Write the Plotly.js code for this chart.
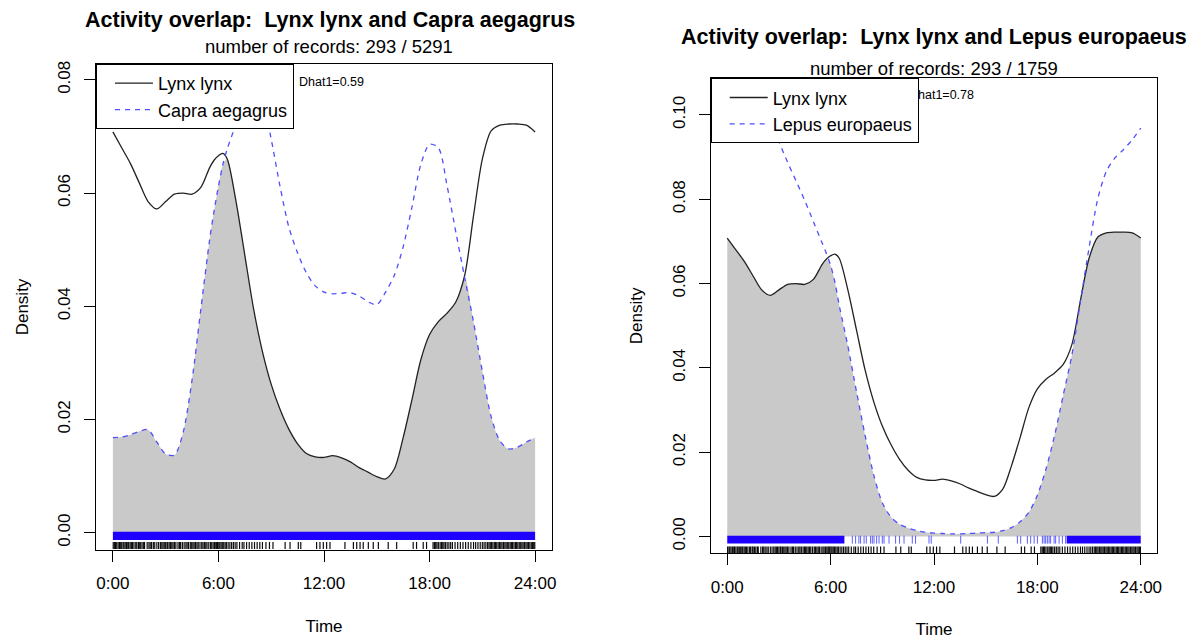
<!DOCTYPE html>
<html><head><meta charset="utf-8">
<script src="https://cdn.plot.ly/plotly-3.0.1.min.js"></script>
<style>html,body{margin:0;padding:0;background:#fff}#chart{width:1192px;height:640px}</style>
</head><body><div id="chart"></div>
<script>
// time grid (hours) shared by all density curves
const hours = [0,0.5,1,1.5,2,2.5,3,3.5,4,4.5,5,5.5,5.75,6,6.25,6.5,7,7.5,8,8.5,9,9.5,10,10.5,11,11.5,12,12.5,13,13.5,14,14.5,15,15.5,16,16.5,17,17.5,18,18.5,19,19.5,20,20.5,21,21.5,22,22.5,23,23.5,24];
const lynxDensity = [0.0708,0.0680,0.0652,0.0618,0.0585,0.0572,0.0585,0.0598,0.0600,0.0598,0.0610,0.0645,0.0658,0.0666,0.0670,0.0660,0.0585,0.0490,0.0395,0.0320,0.0262,0.0218,0.0183,0.0157,0.0140,0.0134,0.0133,0.0136,0.0132,0.0125,0.0115,0.0107,0.0099,0.0095,0.0113,0.0168,0.0235,0.0305,0.0350,0.0373,0.0388,0.0408,0.0455,0.0560,0.0660,0.0710,0.0720,0.0722,0.0722,0.0720,0.0708];
const capraDensity = [0.0168,0.0169,0.0173,0.0179,0.0182,0.0160,0.0139,0.0137,0.0178,0.0270,0.0395,0.0518,0.0568,0.0612,0.0650,0.0678,0.0722,0.0765,0.0793,0.0765,0.0695,0.0612,0.0540,0.0494,0.0459,0.0436,0.0425,0.0422,0.0423,0.0424,0.0418,0.0408,0.0403,0.0425,0.0455,0.0505,0.0575,0.0650,0.0686,0.0680,0.0612,0.0530,0.0450,0.0372,0.0285,0.0205,0.0162,0.0148,0.0151,0.0160,0.0168];
const lepusDensity = [0.0969,0.1003,0.1028,0.1040,0.1028,0.0988,0.0937,0.0888,0.0843,0.0797,0.0747,0.0697,0.0672,0.0643,0.0603,0.0548,0.0452,0.0344,0.0240,0.0146,0.0080,0.0046,0.0029,0.0020,0.0014,0.0010,0.0008,0.0007,0.0006,0.0006,0.0007,0.0008,0.0009,0.0010,0.0014,0.0021,0.0035,0.0057,0.0098,0.0160,0.0240,0.0335,0.0430,0.0558,0.0685,0.0800,0.0866,0.0898,0.0918,0.0941,0.0969];

// record times (hours) for the rugs
const lynxTimes = [0.02,0.1,0.15,0.22,0.3,0.38,0.42,0.5,0.58,0.63,0.7,0.78,0.85,0.9,0.98,1.05,1.12,1.2,1.3,1.36,1.45,1.5,1.58,1.66,1.75,1.8,1.95,2.05,2.12,2.2,2.3,2.38,2.5,2.6,2.7,2.78,2.85,2.92,3.0,3.08,3.12,3.2,3.28,3.35,3.42,3.5,3.58,3.7,3.78,3.85,3.95,4.05,4.15,4.22,4.3,4.4,4.48,4.55,4.62,4.7,4.78,4.85,4.95,5.05,5.12,5.2,5.28,5.35,5.45,5.55,5.62,5.7,5.78,5.85,5.9,5.95,6.02,6.08,6.15,6.22,6.3,6.38,6.45,6.55,6.65,6.75,6.85,6.95,7.05,7.2,7.35,7.45,7.6,7.75,7.9,8.05,8.2,8.35,8.5,8.7,8.9,9.1,9.79,10.07,10.54,10.68,11.58,11.77,11.96,12.15,12.34,13.19,13.67,13.86,14.05,14.23,14.52,14.8,15.09,15.65,16.13,17.07,17.26,17.64,17.83,18.2,18.28,18.35,18.42,18.5,18.6,18.68,18.75,18.82,18.9,19.0,19.1,19.2,19.3,19.45,19.6,19.75,19.9,20.05,20.2,20.35,20.5,20.62,20.75,20.88,21.0,21.1,21.2,21.3,21.38,21.45,21.52,21.6,21.68,21.75,21.82,21.9,21.98,22.05,22.12,22.2,22.28,22.35,22.42,22.5,22.58,22.65,22.72,22.8,22.88,22.95,23.02,23.1,23.18,23.25,23.32,23.4,23.48,23.55,23.62,23.7,23.78,23.85,23.92,23.98];
const capraDenseSpans = [[0,24]];
const lepusDenseSpans = [[0,6.8],[19.7,24]];
const lepusTimes = [7.26,7.45,7.64,7.74,7.94,8.07,8.32,8.42,8.52,8.67,8.81,9.0,9.1,9.39,9.77,10.0,10.26,10.74,10.93,11.71,11.84,13.55,15.1,15.73,16.84,17.03,17.42,17.61,17.81,18.0,18.29,18.39,18.48,18.58,18.68,18.77,18.97,19.06,19.26,19.45,19.64];

const tickHours = [0,6,12,18,24];
const tickLabels = ['0:00','6:00','12:00','18:00','24:00'];
const titles = ['Activity overlap:\u00a0 Lynx lynx and Capra aegagrus','Activity overlap:\u00a0 Lynx lynx and Lepus europaeus'];
const subtitles = ['number of records: 293 / 5291','number of records: 293 / 1759'];
const dhat = ['Dhat1=0.59','Dhat1=0.78'];
const speciesA = 'Lynx lynx';
const speciesB = ['Capra aegagrus','Lepus europaeus'];

const FONT = 'Liberation Sans, Arial, Helvetica, sans-serif';
const BLUE_LINE = '#4f4fff';
const BLUE_RUG = '#1f00ff';
const GREY = '#c9c9c9';

function rug(times, y0, y1, color, width, xa, ya) {
  const x = [], y = [];
  times.forEach(t => { x.push(t, t, null); y.push(y0, y1, null); });
  return {type:'scatter', mode:'lines', x, y, xaxis:xa, yaxis:ya, line:{color, width}, showlegend:false, hoverinfo:'skip'};
}
function spans(sp, y0, y1, color, xa, ya) {
  return sp.map(s => ({type:'scatter', mode:'lines', x:[s[0],s[1],s[1],s[0],s[0]], y:[y0,y0,y1,y1,y0],
    xaxis:xa, yaxis:ya, fill:'toself', fillcolor:color, line:{width:0, color:color}, showlegend:false, hoverinfo:'skip'}));
}

const panels = [
  {other: capraDensity, xa:'x', ya:'y', leg:'legend', blue:[-0.00129,0.00018], black:[-0.00288,-0.00164], dense:capraDenseSpans, sparse:[]},
  {other: lepusDensity, xa:'x2', ya:'y2', leg:'legend2', blue:[-0.0017,0.00017], black:[-0.0039,-0.0024], dense:lepusDenseSpans, sparse:lepusTimes}
];

const traces = [];
panels.forEach((p, k) => {
  const overlap = hours.map((h, i) => Math.min(lynxDensity[i], p.other[i]));
  traces.push({type:'scatter', mode:'lines', x:hours, y:overlap, xaxis:p.xa, yaxis:p.ya, fill:'tozeroy', fillcolor:GREY,
    line:{width:0, shape:'spline', smoothing:0.8, color:GREY}, showlegend:false, hoverinfo:'skip'});
  traces.push(...spans(p.dense, p.blue[0], p.blue[1], BLUE_RUG, p.xa, p.ya));
  if (p.sparse.length) traces.push(rug(p.sparse, p.blue[0], p.blue[1], 'rgba(40,40,255,0.75)', 1, p.xa, p.ya));
  traces.push(rug(lynxTimes, p.black[0], p.black[1], 'rgba(0,0,0,0.95)', 1.2, p.xa, p.ya));
  traces.push({type:'scatter', mode:'lines', name:speciesA, x:hours, y:lynxDensity, xaxis:p.xa, yaxis:p.ya, legend:p.leg,
    line:{color:'#222', width:1.3, shape:'spline', smoothing:0.8}});
  traces.push({type:'scatter', mode:'lines', name:speciesB[k], x:hours, y:p.other, xaxis:p.xa, yaxis:p.ya, legend:p.leg,
    line:{color:BLUE_LINE, width:1.3, dash:'5px,5px', shape:'spline', smoothing:0.8}});
});

function xax(domain) {
  return {domain, range:[-0.96,24.96], tickvals:tickHours, ticktext:tickLabels, ticks:'outside', ticklen:11, tickcolor:'#000',
    showline:true, mirror:true, linecolor:'#000', linewidth:1, showgrid:false, zeroline:false, ticklabelstandoff:7,
    tickfont:{family:FONT, size:17, color:'#000'}, title:{text:'Time', font:{family:FONT, size:17, color:'#000'}, standoff:27}};
}
function yax(domain, range, vals) {
  return {domain, range, tickvals:vals, tickformat:'.2f', tickangle:-90, ticks:'outside', ticklen:11, tickcolor:'#000',
    showline:true, mirror:true, linecolor:'#000', linewidth:1, showgrid:false, zeroline:false, ticklabelstandoff:7,
    tickfont:{family:FONT, size:17, color:'#000'}, title:{text:'Density', font:{family:FONT, size:17, color:'#000'}, standoff:22}};
}
function legendCfg(x, y) {
  return {x, y, xanchor:'left', yanchor:'top', xref:'paper', yref:'paper', bgcolor:'#fff', bordercolor:'#000', borderwidth:1,
    font:{family:FONT, size:18, color:'#000'}, itemwidth:38, indentation:13, tracegroupgap:0};
}

const annotations = [];
[['x','y'],['x2','y2']].forEach((a, k) => {
  annotations.push({xref:a[0]+' domain', yref:'paper', x:k===0?0.513:0.5, y:k===0?1-20/640:1-37/640, text:'<b>'+titles[k]+'</b>', showarrow:false,
    xanchor:'center', yanchor:'middle', font:{family:FONT, size:21.5, color:'#000'}});
  annotations.push({xref:a[0]+' domain', yref:'paper', x:k===0?0.51:0.5, y:k===0?1-46/640:1-69/640, text:subtitles[k], showarrow:false,
    xanchor:'center', yanchor:'middle', font:{family:FONT, size:18.5, color:'#000'}});
  annotations.push({xref:a[0]+' domain', yref:a[1]+' domain', x:k===0?0.516:0.516, y:k===0?0.9636:0.9648, text:dhat[k], showarrow:false,
    xanchor:'center', yanchor:'middle', font:{family:FONT, size:12.5, color:'#000'}});
});

const layout = {
  width:1192, height:640, margin:{l:0, r:0, t:0, b:0}, paper_bgcolor:'#fff', plot_bgcolor:'#fff',
  font:{family:FONT, color:'#000'},
  xaxis: xax([96/1192, 552/1192]),
  yaxis: yax([1-550/640, 1-64/640], [-0.00306, 0.0828], [0,0.02,0.04,0.06,0.08]),
  xaxis2: Object.assign(xax([710.7/1192, 1157.3/1192]), {anchor:'y2'}),
  yaxis2: Object.assign(yax([1-553.3/640, 1-78.3/640], [-0.0040, 0.1087], [0,0.02,0.04,0.06,0.08,0.10]), {anchor:'x2'}),
  legend: legendCfg(96/1192, 1-64/640),
  legend2: legendCfg(710.7/1192, 1-78.3/640),
  annotations
};
layout.xaxis.anchor = 'y';
layout.yaxis.anchor = 'x';
Plotly.newPlot('chart', traces, layout, {displayModeBar:false, staticPlot:true}).then(gd => {
  // draw the legend boxes on top of the annotations, as in the original
  const svgs = gd.querySelectorAll('svg.main-svg');
  const top = svgs[svgs.length - 1];
  gd.querySelectorAll('g.legend, g.legend2').forEach(l => top.appendChild(l));
});
</script></body></html>
